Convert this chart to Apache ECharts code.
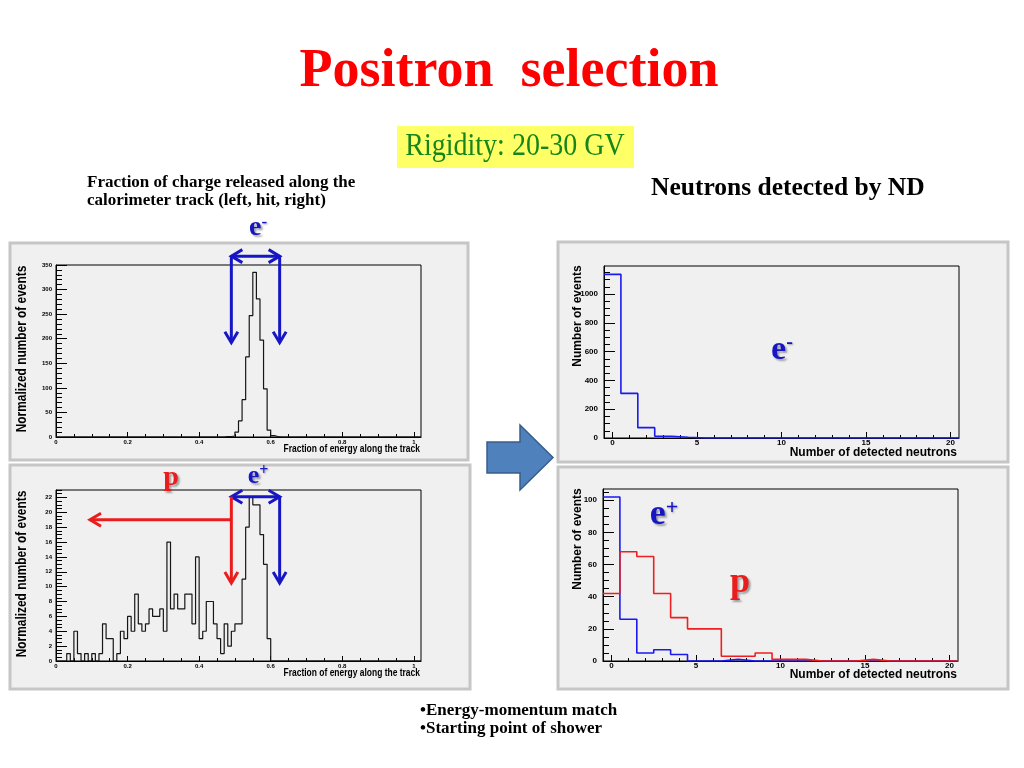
<!DOCTYPE html>
<html>
<head>
<meta charset="utf-8">
<title>Positron selection</title>
<script src="https://cdn.jsdelivr.net/npm/echarts@6/dist/echarts.min.js"></script>
<style>
html,body{margin:0;padding:0;background:#ffffff;}
#chart{width:1024px;height:768px;}
</style>
</head>
<body>
<div id="chart"></div>
<script>
// ================= DATA =================
// Fraction of charge released along the calorimeter track (bin width 0.01)
const fracBinWidth = 0.01;
const fracAxisMax = 1.02;
// e- sample: consecutive bins starting at fracElectronFirstBin
const fracElectronFirstBin = 0.47;
const fracElectronCounts = [1, 1, 2, 10, 33, 76, 163, 247, 335, 281, 197, 98, 14, 3, 1];
// positive sample (p + e+): consecutive bins starting at fracPositiveFirstBin
const fracPositiveFirstBin = 0;
const fracPositiveCounts = [0, 0, 0, 1, 0, 4, 1, 0, 1, 0,
                            1, 0, 1, 5, 3, 3, 0, 1, 4, 3,
                            6, 4, 9, 5, 4, 5, 7, 6, 6, 7,
                            4, 16, 7, 9, 7, 7, 9, 9, 5, 14,
                            3, 4, 8, 8, 5, 3, 1, 5, 2, 4,
                            5, 5, 11, 18, 22, 21, 21, 17, 13, 3];

// Neutrons detected by ND (bins centred on 0..20)
const neutronBins = [0, 1, 2, 3, 4, 5, 6, 7, 8, 9, 10, 11, 12, 13, 14, 15, 16, 17, 18, 19, 20];
const neutronElectron = [1137, 310, 72, 12, 5, 0, 0, 0, 0, 0, 0, 0, 0, 0, 0, 0, 0, 0, 0, 0, 0];
const neutronPositron = [102, 26, 5, 7, 4, 0, 0, 1, 0, 0, 0, 0, 0, 0, 0, 0, 0, 0, 0, 0, 0];
const neutronProton   = [42, 68, 65, 42, 27, 20, 20, 3, 3, 5, 1, 1, 0, 0, 0, 1, 0, 0, 0, 0, 0];

// Tick labels
const fracTickLabels = [0, 0.2, 0.4, 0.6, 0.8, 1];
const fracElectronYLabels = [0, 50, 100, 150, 200, 250, 300, 350];
const fracPositiveYLabels = [0, 2, 4, 6, 8, 10, 12, 14, 16, 18, 20, 22];
const neutronTickLabels = [0, 5, 10, 15, 20];
const neutronElectronYLabels = [0, 200, 400, 600, 800, 1000];
const neutronPositiveYLabels = [0, 20, 40, 60, 80, 100];

// Axis extents
const fracElectronYMax = 350;
const fracPositiveYMax = 23;
const neutronXMin = -0.5, neutronXMax = 20.5;
const neutronElectronYMax = 1195;
const neutronPositiveYMax = 107;

// Cut values (selection arrows)
const cutLow = 0.49, cutHigh = 0.625;

// ================= HELPERS =================
const SANS_N = "'Liberation Sans Narrow','Liberation Sans',Arial,sans-serif";
const SANS = "'Liberation Sans',Arial,sans-serif";
const SERIF = "'Liberation Serif','Times New Roman',serif";
const BLUE = '#1616c4';
const RED = '#ea1c1c';

function steps(a, b, step) {
  const out = [];
  const n = Math.round((b - a) / step);
  for (let i = 0; i <= n; i++) out.push(+(a + i * step).toFixed(6));
  return out;
}
function padBins(firstBin, counts, width, axisMax) {
  const n = Math.round(axisMax / width);
  const full = new Array(n).fill(0);
  const off = Math.round(firstBin / width);
  counts.forEach((c, i) => { full[off + i] = c; });
  return full;
}
function histPoints(lowEdges, counts, width) {
  const pts = counts.map((c, i) => [lowEdges[i], c]);
  pts.push([+(lowEdges[counts.length - 1] + width).toFixed(6), counts[counts.length - 1]]);
  return pts;
}
function axisPair(dim, gridIndex, min, max, labels, minors, majorLen, minorLen, labelStyle) {
  const pos = dim === 'x' ? 'bottom' : 'left';
  return [{
    type: 'value', gridIndex, min, max, position: pos, offset: 0,
    axisLine: { show: true, onZero: false, lineStyle: { color: '#000', width: 1 } },
    axisTick: { show: true, inside: true, length: majorLen, customValues: labels, lineStyle: { color: '#000', width: 1 } },
    axisLabel: Object.assign({ show: true, customValues: labels, color: '#000', fontWeight: 'bold',
                               formatter: v => String(v) }, labelStyle),
    splitLine: { show: false }, minorTick: { show: false }
  }, {
    type: 'value', gridIndex, min, max, position: pos, offset: 0,
    axisLine: { show: false, onZero: false },
    axisTick: { show: true, inside: true, length: minorLen, customValues: minors, lineStyle: { color: '#000', width: 1 } },
    axisLabel: { show: false }, splitLine: { show: false }
  }];
}

// ================= BUILD SERIES DATA =================
const fracEdges = steps(0, fracAxisMax - fracBinWidth, fracBinWidth);
const fracElectronFull = padBins(fracElectronFirstBin, fracElectronCounts, fracBinWidth, fracAxisMax);
const fracPositiveFull = padBins(fracPositiveFirstBin, fracPositiveCounts, fracBinWidth, fracAxisMax);
const neutronEdges = neutronBins.map(k => k - 0.5);

const leftXLabel = { fontSize: 6, fontFamily: SANS_N, margin: 2 };
const leftYLabel = { fontSize: 6, fontFamily: SANS_N, margin: 4 };
const rightXLabel = { fontSize: 8, fontFamily: SANS, margin: 1 };
const rightYLabel = { fontSize: 8, fontFamily: SANS, margin: 6 };

const grids = [
  { left: 56, top: 265, width: 365, height: 172 },   // top-left
  { left: 56, top: 490, width: 365, height: 171 },   // bottom-left
  { left: 604, top: 266, width: 355, height: 172 },  // top-right
  { left: 603, top: 489, width: 355, height: 172 }   // bottom-right
].map(g => Object.assign(g, { show: true, borderColor: '#000', borderWidth: 1, backgroundColor: 'transparent', containLabel: false, outerBoundsMode: 'none' }));

const xAxes = [].concat(
  axisPair('x', 0, 0, fracAxisMax, fracTickLabels, steps(0, 1, 0.05), 5, 3, leftXLabel),
  axisPair('x', 1, 0, fracAxisMax, fracTickLabels, steps(0, 1, 0.05), 5, 3, leftXLabel),
  axisPair('x', 2, neutronXMin, neutronXMax, neutronTickLabels, steps(0, 20, 1), 6, 3, rightXLabel),
  axisPair('x', 3, neutronXMin, neutronXMax, neutronTickLabels, steps(0, 20, 1), 6, 3, rightXLabel)
);
const yAxes = [].concat(
  axisPair('y', 0, 0, fracElectronYMax, fracElectronYLabels, steps(0, 350, 10), 11, 6, leftYLabel),
  axisPair('y', 1, 0, fracPositiveYMax, fracPositiveYLabels, steps(0, 23, 0.5), 11, 6, leftYLabel),
  axisPair('y', 2, 0, neutronElectronYMax, neutronElectronYLabels, steps(0, 1150, 50), 11, 6, rightYLabel),
  axisPair('y', 3, 0, neutronPositiveYMax, neutronPositiveYLabels, steps(0, 105, 5), 11, 6, rightYLabel)
);

function histSeries(name, g, points, color, width) {
  return {
    name, type: 'line', xAxisIndex: 2 * g, yAxisIndex: 2 * g, step: 'end',
    data: points, symbol: 'none', showSymbol: false, silent: true, animation: false,
    lineStyle: { color, width }, z: 3
  };
}
const series = [
  histSeries('e- fraction', 0, histPoints(fracEdges, fracElectronFull, fracBinWidth), '#161616', 1.2),
  histSeries('p+e+ fraction', 1, histPoints(fracEdges, fracPositiveFull, fracBinWidth), '#161616', 1.2),
  histSeries('e- neutrons', 2, histPoints(neutronEdges, neutronElectron, 1), '#1a1aee', 1.6),
  histSeries('e+ neutrons', 3, histPoints(neutronEdges, neutronPositron, 1), '#1a1aee', 1.6),
  histSeries('p neutrons', 3, histPoints(neutronEdges, neutronProton, 1), '#f01e1e', 1.6)
];

// ================= STATIC GRAPHICS =================
function txt(text, x, y, font, fill, align, vAlign, extra) {
  return Object.assign({
    type: 'text', x, y, z: 100,
    style: { text, font, fill, align, verticalAlign: vAlign, textAlign: align, textVerticalAlign: vAlign }
  }, extra || {});
}
function panel(x, y, w, h) {
  return { type: 'rect', z: -5, shape: { x, y, width: w, height: h },
           style: { fill: '#f0f0f0', stroke: '#c6c6c6', lineWidth: 3 } };
}
function particle(base, sup, x, y, size, color) {
  return {
    type: 'text', x, y, z: 100,
    style: {
      text: '{b|' + base + '}{s|' + sup + '}',
      align: 'center', verticalAlign: 'middle', textAlign: 'center', textVerticalAlign: 'middle',
      rich: {
        b: { fontFamily: SERIF, fontWeight: 'bold', fontSize: size, fill: color, color: color,
             textShadowColor: 'rgba(0,0,0,0.35)', textShadowOffsetX: 2, textShadowOffsetY: 2, textShadowBlur: 2 },
        s: { fontFamily: SERIF, fontWeight: 'bold', fontSize: Math.round(size * 0.6), fill: color, color: color,
             verticalAlign: 'top', textShadowColor: 'rgba(0,0,0,0.35)', textShadowOffsetX: 1, textShadowOffsetY: 1, textShadowBlur: 2 }
      }
    }
  };
}

const staticGraphics = [
  panel(10, 243, 458, 217),
  panel(10, 465, 460, 224),
  panel(558, 242, 450, 220),
  panel(558, 467, 450, 222),
  // title
  txt('Positron  selection', 509, 72, 'bold 54px ' + SERIF, '#ff0000', 'center', 'middle'),
  { type: 'rect', z: 90, shape: { x: 397, y: 126, width: 237, height: 42 }, style: { fill: '#ffff66' } },
  txt('Rigidity: 20-30 GV', 515, 147, '28px ' + SERIF, '#16861a', 'center', 'middle', { scaleY: 1.15 }),
  txt('Fraction of charge released along the', 87, 183, 'bold 17px ' + SERIF, '#000', 'left', 'middle'),
  txt('calorimeter track (left, hit, right)', 87, 201, 'bold 17px ' + SERIF, '#000', 'left', 'middle'),
  txt('Neutrons detected by ND', 651, 188, 'bold 25.5px ' + SERIF, '#000', 'left', 'middle'),
  txt('\u2022Energy-momentum match', 420, 711, 'bold 17px ' + SERIF, '#000', 'left', 'middle'),
  txt('\u2022Starting point of shower', 420, 729, 'bold 17px ' + SERIF, '#000', 'left', 'middle'),
  // axis titles
  txt('Normalized number of events', 22, 349, 'bold 14px ' + SANS, '#000', 'center', 'middle', { rotation: Math.PI / 2, scaleX: 0.85 }),
  txt('Normalized number of events', 22, 574, 'bold 14px ' + SANS, '#000', 'center', 'middle', { rotation: Math.PI / 2, scaleX: 0.85 }),
  txt('Fraction of energy along the track', 420, 449, 'bold 11px ' + SANS, '#000', 'right', 'middle', { scaleX: 0.77 }),
  txt('Fraction of energy along the track', 420, 673, 'bold 11px ' + SANS, '#000', 'right', 'middle', { scaleX: 0.77 }),
  txt('Number of events', 578, 316, 'bold 12px ' + SANS, '#000', 'center', 'middle', { rotation: Math.PI / 2 }),
  txt('Number of events', 578, 539, 'bold 12px ' + SANS, '#000', 'center', 'middle', { rotation: Math.PI / 2 }),
  txt('Number of detected neutrons', 957, 453, 'bold 12px ' + SANS, '#000', 'right', 'middle'),
  txt('Number of detected neutrons', 957, 675, 'bold 12px ' + SANS, '#000', 'right', 'middle'),
  // particle labels
  particle('e', '-', 258, 228, 28, BLUE),
  particle('e', '+', 258, 476, 26, BLUE),
  particle('p', '', 171, 478, 28, RED),
  particle('e', '-', 782, 350, 34, BLUE),
  particle('e', '+', 664, 515, 36, BLUE),
  particle('p', '', 740, 583, 36, RED),
  // big arrow
  { type: 'polygon', z: 90,
    shape: { points: [[487, 442], [520, 442], [520, 425], [553, 457.5], [520, 490], [520, 473], [487, 473]] },
    style: { fill: '#4f81bd', stroke: '#385d8a', lineWidth: 1.5 } }
];

const option = {
  backgroundColor: '#ffffff',
  animation: false,
  grid: grids,
  xAxis: xAxes,
  yAxis: yAxes,
  series: series,
  graphic: { elements: staticGraphics }
};

const chart = echarts.init(document.getElementById('chart'), null, { renderer: 'canvas', width: 1024, height: 768 });
chart.setOption(option);

// ================= SELECTION ARROWS (placed through the axes) =================
function px(g, x, y) { return chart.convertToPixel({ xAxisIndex: 2 * g, yAxisIndex: 2 * g }, [x, y]); }
function seg(a, b, color) {
  return { type: 'line', z: 60, shape: { x1: a[0], y1: a[1], x2: b[0], y2: b[1] },
           style: { stroke: color, lineWidth: 3 } };
}
function head(tip, dir, color) {
  const w = 6.5, h = 11;
  let pts;
  if (dir === 'down') pts = [[tip[0] - w, tip[1] - h], [tip[0], tip[1]], [tip[0] + w, tip[1] - h]];
  else if (dir === 'left') pts = [[tip[0] + h, tip[1] - w], [tip[0], tip[1]], [tip[0] + h, tip[1] + w]];
  else pts = [[tip[0] - h, tip[1] - w], [tip[0], tip[1]], [tip[0] - h, tip[1] + w]];
  return { type: 'polyline', z: 60, shape: { points: pts }, style: { stroke: color, lineWidth: 3, fill: null } };
}
const arrows = [];
// top-left: e- window
{
  const aTop = px(0, cutLow, 368), bTop = px(0, cutHigh, 368);
  const aTip = px(0, cutLow, 192), bTip = px(0, cutHigh, 192);
  arrows.push(seg(aTop, bTop, BLUE), head(aTop, 'left', BLUE), head(bTop, 'right', BLUE));
  arrows.push(seg(aTop, aTip, BLUE), head(aTip, 'down', BLUE));
  arrows.push(seg(bTop, bTip, BLUE), head(bTip, 'down', BLUE));
}
// bottom-left: e+ window and proton region
{
  const aTop = px(1, cutLow, 22.1), bTop = px(1, cutHigh, 22.1);
  const aTip = px(1, cutLow, 10.5), bTip = px(1, cutHigh, 10.5);
  const rStart = px(1, cutLow, 19), rEnd = px(1, 0.095, 19);
  arrows.push(seg(aTop, bTop, BLUE), head(aTop, 'left', BLUE), head(bTop, 'right', BLUE));
  arrows.push(seg(bTop, bTip, BLUE), head(bTip, 'down', BLUE));
  arrows.push(seg(aTop, aTip, RED), head(aTip, 'down', RED));
  arrows.push(seg(rStart, rEnd, RED), head(rEnd, 'left', RED));
}
option.graphic = { elements: staticGraphics.concat(arrows) };
chart.setOption(option, true);
</script>
</body>
</html>
